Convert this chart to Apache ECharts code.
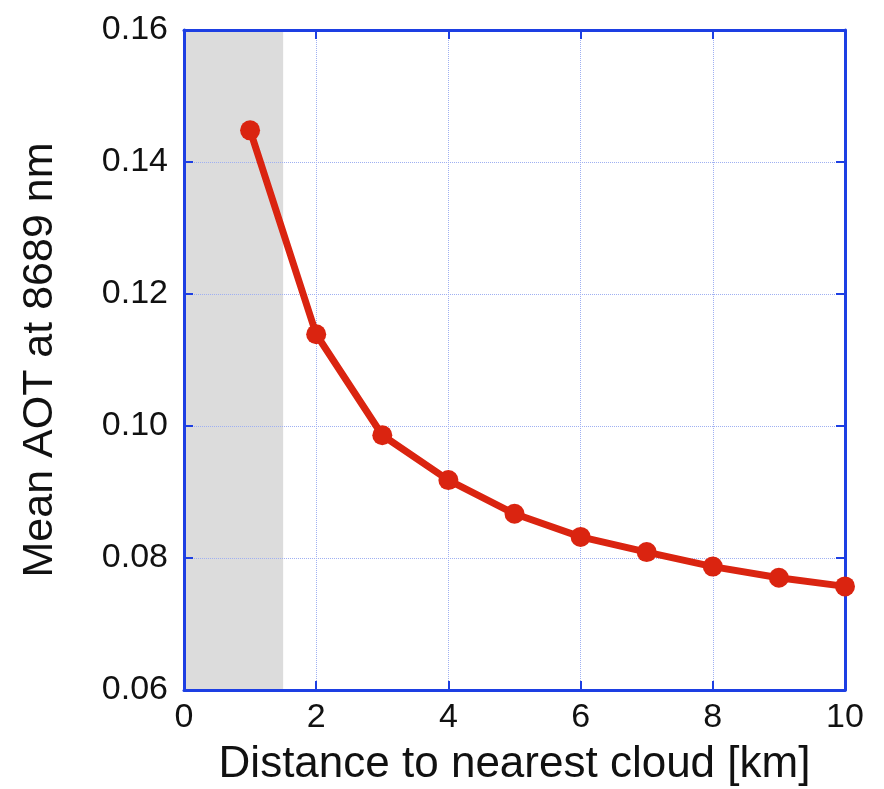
<!DOCTYPE html>
<html>
<head>
<meta charset="utf-8">
<script src="https://cdn.jsdelivr.net/npm/echarts@6/dist/echarts.min.js"></script>
<style>
  html, body { margin: 0; padding: 0; background: #fff; }
  #chart { width: 884px; height: 789px; }
</style>
</head>
<body>
<div id="chart"></div>
<script>
// distance to nearest cloud [km]
const distances = [1, 2, 3, 4, 5, 6, 7, 8, 9, 10]
// mean AOT
const meanAot = [0.1448, 0.1139, 0.0986, 0.0918, 0.0867, 0.0832, 0.0809, 0.0787, 0.0770, 0.0757]
// shaded band (cloud-contaminated zone)
const shadedRange = [0, 1.5]

const borderBlue = '#1d3fe3'
const gridBlue = '#9fb0f2'
const red = '#da2410'
const font = 'Liberation Sans, Arial, sans-serif'

const chart = echarts.init(document.getElementById('chart'))

const tickCommon = {
  show: true,
  inside: true,
  length: 9,
  lineStyle: { color: borderBlue, width: 2 }
}
const lineCommon = {
  show: true,
  onZero: false,
  lineStyle: { color: borderBlue, width: 3 }
}

const option = {
  animation: false,
  grid: {
    left: 184, top: 30, right: 39, bottom: 99,
    outerBoundsMode: 'none'
  },
  xAxis: [
    {
      type: 'value',
      min: 0, max: 10, interval: 2,
      name: 'Distance to nearest cloud [km]',
      nameLocation: 'middle',
      nameGap: 53,
      nameTextStyle: { fontFamily: font, fontSize: 44, color: '#111' },
      axisLine: lineCommon,
      axisTick: tickCommon,
      axisLabel: { fontFamily: font, fontSize: 34, color: '#111', margin: 11 },
      splitLine: { show: true, lineStyle: { color: gridBlue, width: 1, type: 'dotted' } },
      z: 10
    },
    {
      type: 'value', position: 'top',
      min: 0, max: 10, interval: 2,
      axisLine: lineCommon,
      axisTick: tickCommon,
      axisLabel: { show: false },
      splitLine: { show: false },
      z: 10
    }
  ],
  yAxis: [
    {
      type: 'value',
      min: 0.06, max: 0.16, interval: 0.02,
      name: 'Mean AOT at 8689 nm',
      nameLocation: 'middle',
      nameGap: 122,
      nameTextStyle: { fontFamily: font, fontSize: 43, color: '#111' },
      axisLine: lineCommon,
      axisTick: tickCommon,
      axisLabel: {
        fontFamily: font, fontSize: 34, color: '#111', margin: 16,
        formatter: v => v.toFixed(2)
      },
      splitLine: { show: true, lineStyle: { color: gridBlue, width: 1, type: 'dotted' } },
      z: 10
    },
    {
      type: 'value', position: 'right',
      min: 0.06, max: 0.16, interval: 0.02,
      axisLine: lineCommon,
      axisTick: tickCommon,
      axisLabel: { show: false },
      splitLine: { show: false },
      z: 10
    }
  ],
  series: [
    {
      type: 'line',
      data: distances.map((d, i) => [d, meanAot[i]]),
      symbol: 'circle',
      symbolSize: 20,
      lineStyle: { color: red, width: 7 },
      itemStyle: { color: red },
      z: 20,
      markArea: {
        silent: true,
        z: 1,
        itemStyle: { color: '#dcdcdc' },
        data: [[{ xAxis: shadedRange[0] }, { xAxis: shadedRange[1] }]]
      }
    }
  ]
}

chart.setOption(option)
</script>
</body>
</html>
